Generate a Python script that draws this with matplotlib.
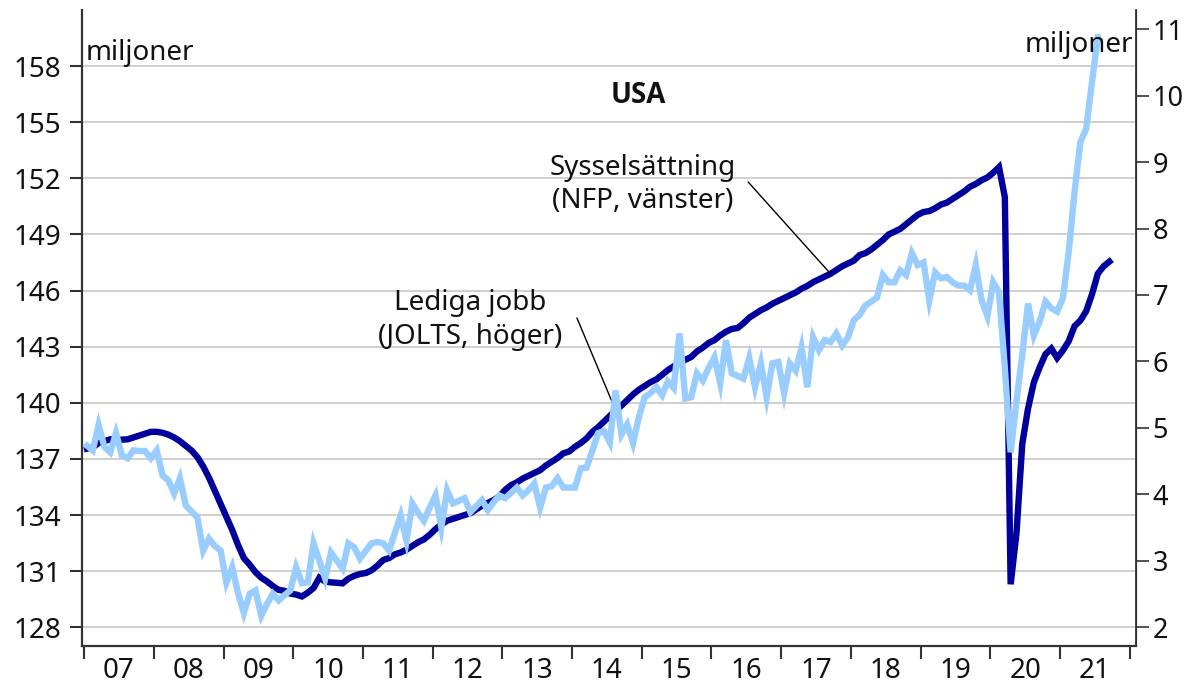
import numpy as np
import matplotlib.pyplot as plt

plt.rcParams['font.family'] = ['Noto Sans', 'DejaVu Sans']

# Sysselsättning, NFP (miljoner), jan 2007 - sep 2021
nfp = [
    137.55, 137.62, 137.85, 137.95, 138.05, 138.05, 138.03, 138.05, 138.15, 138.25, 138.35, 138.45,
    138.45, 138.40, 138.30, 138.15, 137.95, 137.70, 137.45, 137.10, 136.60, 136.00, 135.30, 134.60,
    133.90, 133.20, 132.40, 131.70, 131.35, 130.95, 130.65, 130.45, 130.20, 130.00, 129.95, 129.80,
    129.75, 129.65, 129.85, 130.10, 130.65, 130.45, 130.40, 130.38, 130.35, 130.60, 130.75, 130.85,
    130.90, 131.05, 131.30, 131.60, 131.70, 131.90, 132.00, 132.15, 132.35, 132.55, 132.70, 132.95,
    133.25, 133.50, 133.70, 133.80, 133.90, 134.00, 134.10, 134.30, 134.50, 134.65, 134.80, 135.00,
    135.35, 135.60, 135.75, 135.95, 136.10, 136.25, 136.40, 136.65, 136.85, 137.05, 137.30, 137.40,
    137.65, 137.85, 138.10, 138.45, 138.70, 139.00, 139.30, 139.60, 139.85, 140.15, 140.45, 140.70,
    140.90, 141.10, 141.25, 141.50, 141.75, 141.95, 142.15, 142.30, 142.45, 142.75, 142.95, 143.20,
    143.35, 143.60, 143.80, 143.95, 144.00, 144.25, 144.55, 144.75, 144.95, 145.10, 145.30, 145.45,
    145.60, 145.75, 145.90, 146.10, 146.25, 146.45, 146.60, 146.75, 146.90, 147.10, 147.30, 147.45,
    147.60, 147.90, 148.00, 148.20, 148.45, 148.70, 149.00, 149.15, 149.30, 149.55, 149.80, 150.05,
    150.20, 150.25, 150.40, 150.60, 150.70, 150.90, 151.10, 151.30, 151.55, 151.70, 151.90, 152.05,
    152.30, 152.60, 151.00, 130.30, 133.00, 137.80, 139.70, 141.10, 141.90, 142.60, 142.90, 142.40,
    142.80, 143.30, 144.10, 144.40, 144.90, 145.80, 146.90, 147.30, 147.55,
]

# Lediga jobb, JOLTS (miljoner), jan 2007 - jul 2021
jolts = [
    4.73, 4.66, 5.04, 4.71, 4.63, 4.92, 4.58, 4.54, 4.66, 4.65, 4.65, 4.54,
    4.66, 4.28, 4.21, 4.01, 4.24, 3.83, 3.74, 3.65, 3.15, 3.33, 3.22, 3.15,
    2.67, 2.90, 2.51, 2.21, 2.50, 2.55, 2.17, 2.35, 2.50, 2.40, 2.48, 2.55,
    2.90, 2.66, 2.67, 3.26, 3.00, 2.73, 3.12, 3.00, 2.88, 3.26, 3.20, 3.03,
    3.15, 3.26, 3.28, 3.26, 3.15, 3.42, 3.68, 3.30, 3.86, 3.72, 3.60, 3.80,
    3.98, 3.50, 4.06, 3.86, 3.90, 3.94, 3.73, 3.82, 3.91, 3.76, 3.88, 3.98,
    3.94, 4.02, 4.10, 3.98, 4.06, 4.16, 3.80, 4.10, 4.12, 4.24, 4.10, 4.10,
    4.10, 4.39, 4.40, 4.66, 4.92, 4.95, 4.78, 5.56, 4.90, 5.05, 4.77, 5.16,
    5.46, 5.52, 5.61, 5.49, 5.70, 5.60, 6.42, 5.44, 5.46, 5.82, 5.71, 5.90,
    6.06, 5.67, 6.32, 5.82, 5.78, 5.74, 6.05, 5.61, 5.97, 5.46, 5.97, 5.99,
    5.52, 5.97, 5.86, 6.21, 5.61, 6.36, 6.17, 6.32, 6.29, 6.42, 6.24, 6.36,
    6.62, 6.70, 6.84, 6.90, 6.96, 7.30, 7.19, 7.19, 7.37, 7.30, 7.63, 7.45,
    7.49, 6.92, 7.34, 7.25, 7.27, 7.19, 7.14, 7.14, 7.07, 7.45, 6.92, 6.68,
    7.19, 7.04, 5.90, 4.63, 5.40, 6.10, 6.87, 6.39, 6.60, 6.90, 6.80, 6.75,
    6.95, 7.65, 8.55, 9.30, 9.50, 10.20, 10.88,
]

years = list(range(2007, 2022))
year_labels = ['07', '08', '09', '10', '11', '12', '13', '14', '15', '16', '17', '18', '19', '20', '21']
left_ticks = [128, 131, 134, 137, 140, 143, 146, 149, 152, 155, 158]
right_ticks = [2, 3, 4, 5, 6, 7, 8, 9, 10, 11]

# månader som tidpunkter mitt i månaden
x_nfp = 2007 + (np.arange(len(nfp)) + 0.5) / 12
x_jolts = 2007 + (np.arange(len(jolts)) + 0.5) / 12

dark = '#00009c'
light = '#99ccff'
spine_col = '#333333'
txt = '#111111'

fig = plt.figure(figsize=(11.86, 6.92), dpi=100)
ax = fig.add_axes([82 / 1186, 1 - 646 / 692, (1136 - 82) / 1186, (646 - 10) / 692])
ax2 = ax.twinx()

ax.plot(x_nfp, nfp, color=dark, lw=4.6, solid_joinstyle='miter', zorder=3)
ax2.plot(x_jolts, jolts, color=light, lw=4.6, solid_joinstyle='miter', zorder=3)

ax.set_xlim(2006.97, 2022.09)
ax.set_ylim(127, 161)
ax2.set_ylim(1.714, 11.29)

ax.set_yticks(left_ticks)
ax2.set_yticks(right_ticks)
ax.yaxis.grid(True, color='#cccccc', lw=1.3)
ax.set_axisbelow(True)

# år: streck vid årsskiften, etiketter mitt i året
ax.set_xticks(years + [2022])
ax.set_xticklabels([])
ax.set_xticks(np.array(years) + 0.5, minor=True)
ax.set_xticklabels(year_labels, minor=True)
ax.tick_params(axis='x', which='major', length=9, width=1.5, color=spine_col)
ax.tick_params(axis='x', which='minor', length=0, pad=8, labelsize=20, labelcolor=txt)
ax.tick_params(axis='y', length=9, width=1.5, color=spine_col, pad=6, labelsize=20, labelcolor=txt)
ax2.tick_params(axis='y', length=9, width=1.2, color=spine_col, pad=3, labelsize=19.5, labelcolor=txt)

for a in (ax, ax2):
    a.spines['top'].set_visible(False)
ax.spines['left'].set_linewidth(1.6)
ax.spines['left'].set_color(spine_col)
ax.spines['bottom'].set_linewidth(1.6)
ax.spines['bottom'].set_color(spine_col)
ax2.spines['left'].set_visible(False)
ax2.spines['bottom'].set_visible(False)
ax2.spines['right'].set_linewidth(1.3)
ax2.spines['right'].set_color(spine_col)

ax2.text(0.003, 0.921, 'miljoner', transform=ax.transAxes, fontsize=20, ha='left', va='baseline', color=txt)
ax2.text(0.997, 0.934, 'miljoner', transform=ax.transAxes, fontsize=20, ha='right', va='baseline', color=txt)
ax2.text(0.5275, 0.866, 'USA', transform=ax.transAxes, fontsize=20, fontweight='bold',
         family=['Open Sans', 'DejaVu Sans'], ha='center', va='center', color=txt)

# etiketter med streck
ax2.text(0.532, 0.726, 'Sysselsättning\n(NFP, vänster)', transform=ax.transAxes, fontsize=20,
         ha='center', va='center', linespacing=1.25, color=txt)
i_nfp = 128  # sep 2017
ax.annotate('', xy=(x_nfp[i_nfp], nfp[i_nfp]), xycoords='data',
            xytext=(0.632, 0.7296), textcoords='axes fraction',
            arrowprops=dict(arrowstyle='-', lw=1, color='black', shrinkA=0, shrinkB=0), zorder=5)

ax2.text(0.368, 0.5126, 'Lediga jobb\n(JOLTS, höger)', transform=ax.transAxes, fontsize=20,
         ha='center', va='center', linespacing=1.25, color=txt)
i_jol = 91  # aug 2014
ax.annotate('', xy=(x_nfp[i_jol], nfp[i_jol]), xycoords='data',
            xytext=(0.4696, 0.5157), textcoords='axes fraction',
            arrowprops=dict(arrowstyle='-', lw=1, color='black', shrinkA=0, shrinkB=0), zorder=5)

fig.savefig('out.png', dpi=100)
